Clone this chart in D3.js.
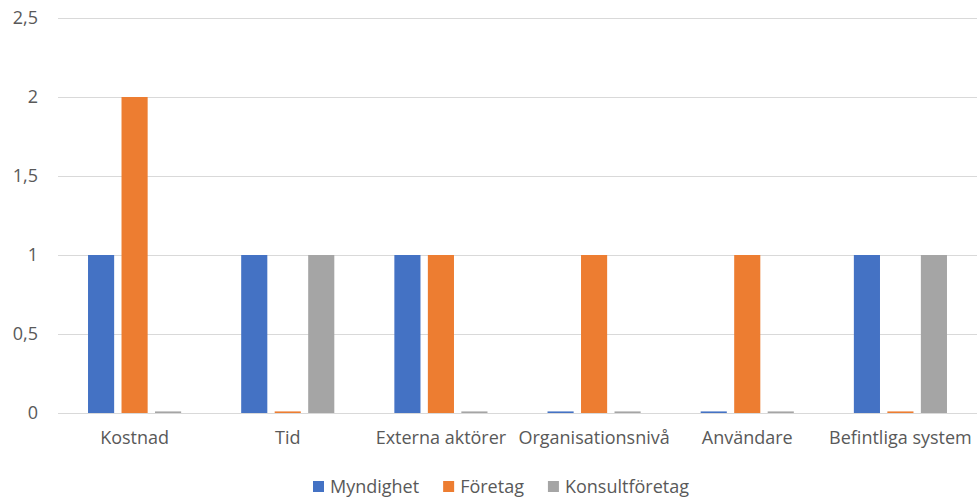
<!DOCTYPE html>
<html><head><meta charset="utf-8">
<script src="https://cdn.jsdelivr.net/npm/d3@7"></script>
<style>body{margin:0;background:#fff}svg{display:block}text{font-family:"Open Sans",sans-serif;fill:#595959}</style>
</head><body><svg id="c" width="977" height="498"></svg>
<script>
const categories = ["Kostnad","Tid","Externa aktörer","Organisationsnivå","Användare","Befintliga system"];
const seriesNames = ["Myndighet","Företag","Konsultföretag"];
const myndighet = [1, 1, 1, 0.01, 0.01, 1];
const foretag = [2, 0.01, 1, 1, 1, 0.01];
const konsultforetag = [0.01, 1, 0.01, 0.01, 0.01, 1];
const colors = ["#4472C4","#ED7D31","#A5A5A5"];
const yTicks = [0, 0.5, 1, 1.5, 2, 2.5];
const yTickLabels = ["0","0,5","1","1,5","2","2,5"];

const seriesValues = [myndighet, foretag, konsultforetag];
const FS = 18;
const svg = d3.select("#c");
const m = {left:58, right:0, top:18, bottom:85};
const W = 977, H = 498;
const x0 = d3.scaleBand().domain(categories).range([m.left, W - m.right]).paddingInner(0).paddingOuter(0);
const bw = x0.bandwidth();
const off = bw * 0.196;
const x1 = d3.scaleBand().domain(seriesNames).range([off, bw - off]).paddingInner(0.22).paddingOuter(0);
const y = d3.scaleLinear().domain([0, 2.5]).range([413, 18]);

// gridlines
const yAxis = d3.axisLeft(y).tickValues(yTicks).tickSize(-(W - m.left - m.right)).tickFormat((d,i)=>yTickLabels[i]).tickPadding(20);
const gy = svg.append("g").attr("transform", `translate(${m.left},0)`).call(yAxis);
gy.select(".domain").remove();
gy.selectAll(".tick line").attr("stroke", "#d9d9d9").attr("stroke-width", 1);
gy.selectAll(".tick text").attr("font-size", FS).style("fill","#595959").attr("font-family", "'Open Sans',sans-serif");

// bars
const groups = svg.append("g").selectAll("g").data(categories).join("g")
  .attr("transform", d => `translate(${x0(d)},0)`);
groups.selectAll("rect").data((c, ci) => seriesNames.map((s, si) => ({s, si, v: seriesValues[si][ci]})))
  .join("rect")
  .attr("x", d => x1(d.s))
  .attr("width", x1.bandwidth())
  .attr("y", d => y(d.v))
  .attr("height", d => y(0) - y(d.v))
  .attr("fill", d => colors[d.si]);

// x axis
const xAxis = d3.axisBottom(x0).tickSize(0).tickPadding(18);
const gx = svg.append("g").attr("transform", `translate(0,${y(0)})`).call(xAxis);
gx.select(".domain").attr("stroke", "#d9d9d9");
gx.selectAll(".tick text").attr("font-size", FS).style("fill","#595959").attr("font-family", "'Open Sans',sans-serif");

// legend
const lg = svg.append("g");
let lx = 313;
seriesNames.forEach((s, i) => {
  lg.append("rect").attr("x", lx).attr("y", 481).attr("width", 11).attr("height", 11).attr("fill", colors[i]);
  const t = lg.append("text").attr("x", lx + 17).attr("y", 492.5).attr("font-size", FS).text(s);
  lx += 17 + t.node().getComputedTextLength() + 24;
});
</script></body></html>
